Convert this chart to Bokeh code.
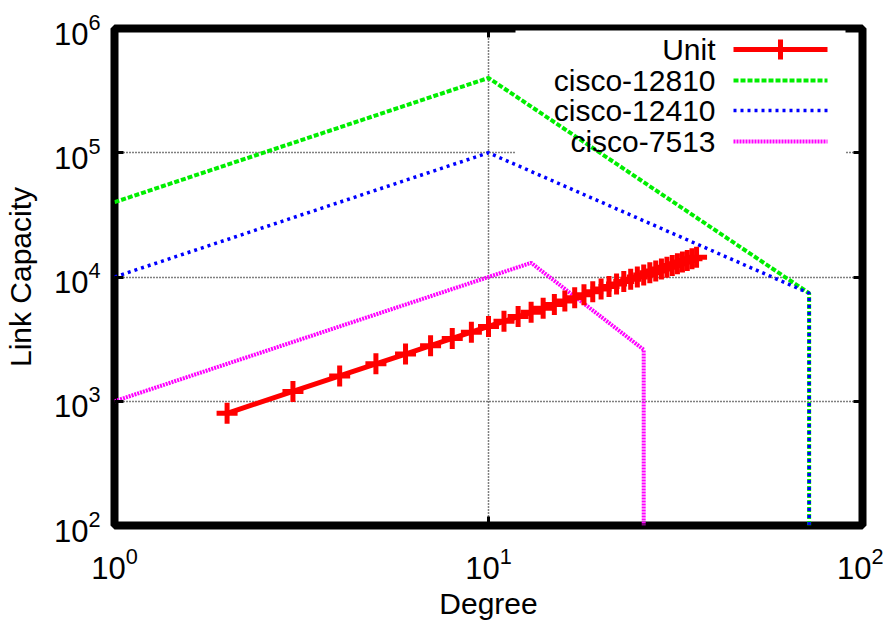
from bokeh.plotting import figure
from bokeh.models import (FixedTicker, LogAxis, Label, Arrow, BoxAnnotation,
                          Range1d, CustomJSTickFormatter)
from bokeh.embed import file_html
from bokeh.resources import INLINE

# ---- data ----
unit_x = [2, 3, 4, 5, 6, 7, 8, 9, 10, 11, 12, 13, 14, 15, 16, 17, 18, 19, 20,
          21, 22, 23, 24, 25, 26, 27, 28, 29, 30, 31, 32, 33, 34, 35, 36]
unit_y = [800, 1200, 1600, 2000, 2400, 2800, 3200, 3600, 4000, 4400, 4800,
          5200, 5600, 6000, 6400, 6800, 7200, 7600, 8000, 8400, 8800, 9200,
          9600, 10000, 10400, 10800, 11200, 11600, 12000, 12400, 12800,
          13200, 13600, 14000, 14400]
c12810_x = [1, 10, 72, 72]
c12810_y = [40000, 400000, 7400, 100]
c12410_x = [1, 10, 72, 72]
c12410_y = [10000, 100000, 7400, 100]
c7513_x = [1, 13, 26, 26]
c7513_y = [1000, 13000, 2600, 100]
series_names = ["Unit", "cisco-12810", "cisco-12410", "cisco-7513"]
x_ticks = [1, 10, 100]
y_ticks = [100, 1000, 10000, 100000, 1000000]

FONT = "Liberation Sans"
TICK_FS = "31px"
LAB_FS = "30px"

p = figure(width=883, height=622, x_axis_type="log", y_axis_type="log",
           x_range=Range1d(1, 100), y_range=Range1d(100, 1000000),
           output_backend="svg", toolbar_location=None,
           min_border_left=113, min_border_right=21,
           min_border_top=28, min_border_bottom=86,
           x_axis_label="Degree", y_axis_label="Link Capacity")

p.outline_line_color = "black"
p.outline_line_width = 8
p.background_fill_color = "white"
p.border_fill_color = "white"

for ax in (p.xaxis[0], p.yaxis[0]):
    ax.axis_line_color = None
    ax.major_tick_in = 9
    ax.major_tick_out = 0
    ax.major_tick_line_width = 3
    ax.minor_tick_line_color = None
    ax.major_label_text_font = FONT
    ax.major_label_text_font_size = TICK_FS
    ax.major_label_text_color = "black"
    ax.axis_label_text_font = FONT
    ax.axis_label_text_font_size = LAB_FS
    ax.axis_label_text_font_style = "normal"
    ax.axis_label_text_color = "black"
p.xaxis[0].ticker = FixedTicker(ticks=x_ticks)
p.yaxis[0].ticker = FixedTicker(ticks=y_ticks)
p.xaxis[0].major_label_standoff = 21
p.xaxis[0].axis_label_standoff = 5
p.yaxis[0].major_label_standoff = 14
p.yaxis[0].axis_label_standoff = 14

# mirrored tick marks on top/right
blank = CustomJSTickFormatter(code="return ' ';")
for side, tk in (("above", x_ticks), ("right", y_ticks)):
    a = LogAxis(ticker=FixedTicker(ticks=tk), formatter=blank,
                axis_line_color=None,
                major_tick_in=9, major_tick_out=0, major_tick_line_width=3,
                minor_tick_line_color=None, major_label_text_font_size="4px",
                major_label_standoff=0)
    p.add_layout(a, side)

p.xgrid.ticker = FixedTicker(ticks=x_ticks)
p.ygrid.ticker = FixedTicker(ticks=y_ticks)
for g in (p.xgrid[0], p.ygrid[0]):
    g.grid_line_color = "black"
    g.grid_line_width = 1.5
    g.grid_line_dash = "1 2"

# opaque key area hides the grid behind it
p.add_layout(BoxAnnotation(left=515, right=845, top=30, bottom=160,
                           left_units="canvas", right_units="canvas",
                           top_units="canvas", bottom_units="canvas",
                           fill_color="white", fill_alpha=1.0, line_color=None,
                           level="underlay"))

# ---- series ----
p.line(c12810_x, c12810_y, line_color="#00ee00", line_width=4, line_dash="5 2")
p.line(c12410_x, c12410_y, line_color="#0000ff", line_width=3.5, line_dash="3 4")
p.line(c7513_x, c7513_y, line_color="#ff00ff", line_width=4, line_dash="2 1")
p.line(unit_x, unit_y, line_color="#ff0000", line_width=5)
p.scatter(unit_x, unit_y, marker="cross", size=21, line_color="#ff0000",
          line_width=5)

# ---- key (labels left of samples, gnuplot style) ----
rows = [49, 80, 110, 141]
styles = [("#ff0000", 5, "solid"), ("#00ee00", 4, "5 2"),
          ("#0000ff", 3.5, "3 4"), ("#ff00ff", 4, "2 1")]
for name, yy, (col, lw, dash) in zip(series_names, rows, styles):
    p.add_layout(Label(x=715, y=yy, x_units="canvas", y_units="canvas",
                       text=name, text_align="right", text_baseline="middle",
                       text_font=FONT, text_font_size=LAB_FS,
                       text_color="black"))
    p.add_layout(Arrow(end=None, x_start=733, y_start=yy, x_end=827, y_end=yy,
                       start_units="canvas", end_units="canvas",
                       line_color=col, line_width=lw, line_dash=dash))
p.add_layout(Arrow(end=None, x_start=780, y_start=rows[0] - 10, x_end=780,
                   y_end=rows[0] + 10, start_units="canvas", end_units="canvas",
                   line_color="#ff0000", line_width=5))

open("out.html", "w").write(file_html(p, INLINE))
